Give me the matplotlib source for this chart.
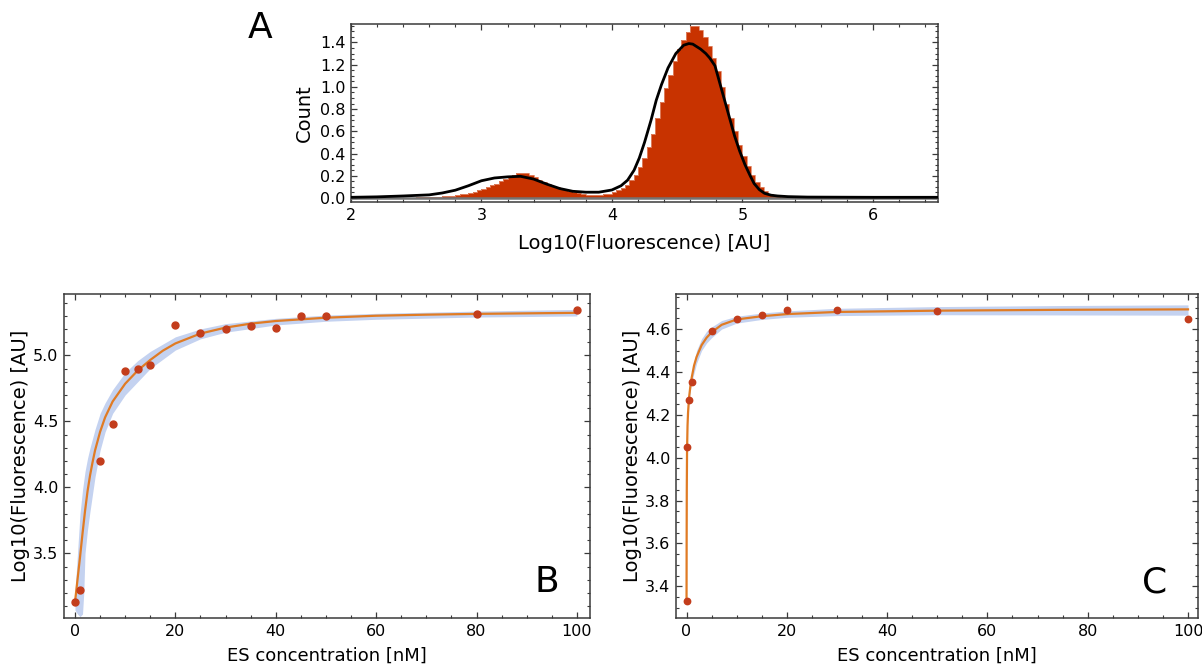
"""
Three-panel figure: fluorescence histogram (A) and two ES titration fits (B, C).
Output: out.png
"""

import numpy as np
import matplotlib.pyplot as plt
from matplotlib.ticker import MultipleLocator

# ── Panel A data ──────────────────────────────────────────────────────────────
hist_edges = np.linspace(2.5, 5.4, 88)
hist_counts = [
    0.005, 0.006, 0.007,  0.008, 0.010, 0.012,  0.015, 0.018, 0.022,
    0.027, 0.033, 0.040,  0.048, 0.058, 0.070,  0.083, 0.098, 0.113,
    0.130, 0.150, 0.170,  0.190, 0.210, 0.225,  0.228, 0.222, 0.205,
    0.185, 0.165, 0.145,  0.128, 0.112, 0.097,  0.083, 0.071, 0.060,
    0.050, 0.042, 0.036,  0.031, 0.028, 0.027,  0.028, 0.032, 0.040,
    0.052, 0.068, 0.090,  0.120, 0.160, 0.210,  0.280, 0.360, 0.460,
    0.580, 0.720, 0.860,  0.990, 1.110, 1.230,  1.340, 1.420, 1.490,
    1.545, 1.545, 1.510,  1.450, 1.370, 1.260,  1.140, 1.000, 0.850,
    0.720, 0.600, 0.480,  0.380, 0.290, 0.210,  0.140, 0.095, 0.060,
    0.040, 0.025, 0.015,  0.009, 0.005, 0.003,
]
kde_x = [2.0, 2.2, 2.4, 2.6, 2.7, 2.8, 2.9, 3.0, 3.1, 3.2, 3.3, 3.4, 3.5, 3.6,
         3.7, 3.8, 3.9, 4.0, 4.07, 4.12, 4.17, 4.21, 4.25, 4.30, 4.34, 4.38,
         4.43, 4.49, 4.55, 4.59, 4.62, 4.68, 4.72, 4.75, 4.79, 4.84, 4.89,
         4.94, 4.98, 5.02, 5.06, 5.09, 5.13, 5.17, 5.22, 5.27, 5.35, 5.5, 6.0, 6.5]
kde_y = [0.006, 0.010, 0.018, 0.028, 0.045, 0.070, 0.110, 0.155, 0.180, 0.190,
         0.195, 0.170, 0.125, 0.085, 0.060, 0.052, 0.052, 0.072, 0.110, 0.160,
         0.250, 0.360, 0.500, 0.700, 0.880, 1.020, 1.170, 1.300, 1.375, 1.390,
         1.385, 1.340, 1.300, 1.260, 1.190, 0.980, 0.770, 0.560, 0.420, 0.300,
         0.200, 0.130, 0.075, 0.042, 0.025, 0.018, 0.012, 0.008, 0.006, 0.006]

# ── Panel B data ──────────────────────────────────────────────────────────────
b_conc = [0, 1, 5, 7.5, 10, 12.5, 15, 20, 25, 30, 35, 40, 45, 50, 80, 100]
b_fluor = [3.13, 3.22, 4.20, 4.48, 4.88, 4.90, 4.93, 5.23, 5.17, 5.20, 5.22,
           5.21, 5.30, 5.30, 5.31, 5.34]
b_fit_x = [0, 0.5, 1, 1.5, 2, 2.5, 3, 3.5, 4, 5, 6, 7.5, 10, 12.5, 15, 17.5,
           20, 25, 30, 35, 40, 50, 60, 70, 80, 90, 100]
b_fit_y = [3.13, 3.30, 3.47, 3.65, 3.82, 3.97, 4.09, 4.19, 4.28, 4.42, 4.53,
           4.65, 4.785, 4.885, 4.965, 5.035, 5.09, 5.165, 5.21, 5.24, 5.26,
           5.285, 5.30, 5.308, 5.314, 5.318, 5.322]
b_band_x = [0, 0.5, 1, 1.5, 1.75, 2, 2.5, 3, 4, 5, 6, 7.5, 10, 12.5, 15, 20,
            25, 30, 40, 50, 60, 80, 100]
b_band_lo = [3.07, 3.04, 3.02, 3.04, 3.20, 3.50, 3.68, 3.82, 4.08, 4.28, 4.42,
             4.56, 4.70, 4.80, 4.90, 5.04, 5.125, 5.175, 5.23, 5.258, 5.273,
             5.29, 5.298]
b_band_hi = [3.20, 3.50, 3.80, 3.98, 4.05, 4.12, 4.22, 4.30, 4.44, 4.56, 4.64,
             4.74, 4.87, 4.96, 5.03, 5.14, 5.20, 5.24, 5.28, 5.305, 5.318,
             5.335, 5.348]

# ── Panel C data ──────────────────────────────────────────────────────────────
c_conc = [0, 0.1, 0.5, 1, 5, 10, 15, 20, 30, 50, 100]
c_fluor = [3.33, 4.05, 4.27, 4.355, 4.59, 4.645, 4.665, 4.69, 4.69, 4.685, 4.645]
c_fit_x = [0, 0.02, 0.05, 0.1, 0.2, 0.3, 0.5, 0.75, 1, 1.5, 2, 3, 4, 5, 7, 10,
           15, 20, 30, 50, 75, 100]
c_fit_y = [3.33, 3.60, 3.85, 4.03, 4.15, 4.21, 4.28, 4.33, 4.37, 4.43, 4.47,
           4.525, 4.56, 4.585, 4.62, 4.645, 4.66, 4.67, 4.68, 4.686, 4.69, 4.692]
c_band_x = [0, 0.5, 1, 2, 3, 4, 5, 7, 10, 15, 20, 30, 50, 75, 100]
c_band_lo = [3.33, 4.27, 4.35, 4.44, 4.50, 4.535, 4.56, 4.60, 4.628, 4.645,
             4.655, 4.663, 4.667, 4.666, 4.665]
c_band_hi = [3.33, 4.29, 4.39, 4.50, 4.555, 4.59, 4.61, 4.64, 4.66, 4.675,
             4.685, 4.697, 4.705, 4.71, 4.713]

# ── Style ─────────────────────────────────────────────────────────────────────
plt.rcParams["font.family"] = ["DejaVu Sans"]
FRAME = "#3a3a3a"
HIST_RED = "#c83300"
FIT_ORANGE = "#e07b24"
DOT_RED = "#c33d1c"
BAND_BLUE = "#c4d2f0"
TICK_FS = 11.5
LABEL_FS = 14


def style_frame(ax, xmaj, xmin, ymaj, ymin):
    for sp in ax.spines.values():
        sp.set_color(FRAME)
        sp.set_linewidth(1.1)
    ax.xaxis.set_major_locator(MultipleLocator(xmaj))
    ax.xaxis.set_minor_locator(MultipleLocator(xmin))
    ax.yaxis.set_major_locator(MultipleLocator(ymaj))
    ax.yaxis.set_minor_locator(MultipleLocator(ymin))
    ax.tick_params(which="both", direction="in", top=True, right=True,
                   color=FRAME, labelsize=TICK_FS, pad=4)
    ax.tick_params(which="major", length=4.5, width=0.9)
    ax.tick_params(which="minor", length=2.5, width=0.8)


fig = plt.figure(figsize=(12.02, 6.67), dpi=100)

# ── A ────────────────────────────────────────────────────────────────────────
axA = fig.add_axes([0.2920, 0.6972, 0.4884, 0.2668])
axA.stairs(hist_counts, hist_edges, fill=True, color=HIST_RED, zorder=2)
axA.stairs(hist_counts, hist_edges, color="#e08a6c", lw=0.6, zorder=2)
axA.axhline(0, color="0.45", lw=1.8, zorder=3)
axA.plot(kde_x, kde_y, color="black", lw=2.0, zorder=4)
axA.set_xlim(2, 6.5)
axA.set_ylim(-0.036, 1.566)
style_frame(axA, 1, 0.2, 0.2, 0.05)
axA.yaxis.set_major_formatter(lambda v, p: f"{v:.1f}")
axA.set_xlabel("Log10(Fluorescence) [AU]", fontsize=LABEL_FS, labelpad=8)
axA.set_ylabel("Count", fontsize=LABEL_FS, labelpad=4)
fig.text(0.2163, 0.958, "A", fontsize=26, ha="center", va="center")

# ── B ────────────────────────────────────────────────────────────────────────
axB = fig.add_axes([0.0532, 0.0735, 0.4376, 0.4858])
axB.fill_between(b_band_x, b_band_lo, b_band_hi, color=BAND_BLUE, lw=0, zorder=1)
axB.plot(b_fit_x, b_fit_y, color=FIT_ORANGE, lw=1.6, zorder=2)
axB.plot(b_conc, b_fluor, "o", color=DOT_RED, ms=5.0, zorder=3)
axB.set_xlim(-2.2, 102.6)
axB.set_ylim(3.01, 5.465)
style_frame(axB, 20, 5, 0.5, 0.1)
axB.set_xlabel("ES concentration [nM]", fontsize=13, labelpad=6)
axB.set_ylabel("Log10(Fluorescence) [AU]", fontsize=LABEL_FS, labelpad=2)
axB.text(0.918, 0.111, "B", transform=axB.transAxes, fontsize=26,
         ha="center", va="center")

# ── C ────────────────────────────────────────────────────────────────────────
axC = fig.add_axes([0.5624, 0.0735, 0.4343, 0.4858])
axC.fill_between(c_band_x, c_band_lo, c_band_hi, color=BAND_BLUE, lw=0, zorder=1)
axC.plot(c_fit_x, c_fit_y, color=FIT_ORANGE, lw=1.6, zorder=2)
axC.plot(c_conc, c_fluor, "o", color=DOT_RED, ms=4.6, zorder=3)
axC.set_xlim(-2.1, 102.0)
axC.set_ylim(3.252, 4.764)
style_frame(axC, 20, 5, 0.2, 0.05)
axC.set_xlabel("ES concentration [nM]", fontsize=13, labelpad=6)
axC.set_ylabel("Log10(Fluorescence) [AU]", fontsize=LABEL_FS, labelpad=2)
axC.text(0.916, 0.111, "C", transform=axC.transAxes, fontsize=26,
         ha="center", va="center")

fig.savefig("out.png", dpi=100)
